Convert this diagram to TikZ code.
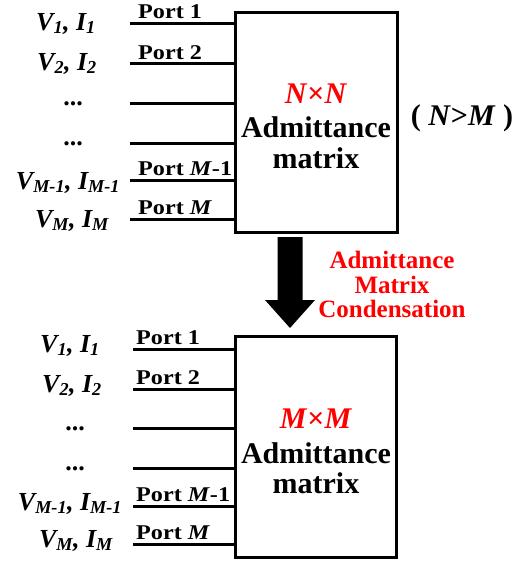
\documentclass[tikz,border=0pt]{standalone}
\usepackage{fontspec}
\setmainfont{Liberation Serif}
\begin{document}
\begin{tikzpicture}[x=1pt,y=-1pt,
  box/.style={draw,line width=3pt,inner sep=0pt},
  port/.style={line width=3pt},
  boxtxt/.style={inner sep=0pt,anchor=base,font=\fontsize{30}{34}\selectfont\bfseries},
  redtxt/.style={inner sep=0pt,anchor=base,text=red,font=\fontsize{25}{28}\selectfont\bfseries},
  porttxt/.style={inner sep=0pt,anchor=base west,font=\fontsize{21}{24}\selectfont\bfseries},
  vlab/.style={inner sep=0pt,anchor=base,font=\fontsize{26}{30}\selectfont\bfseries\itshape},
  dots/.style={inner sep=0pt,anchor=base,font=\fontsize{26}{30}\selectfont\bfseries}]
\useasboundingbox (0,0) rectangle (520,562);
\newcommand{\pt}[1]{\scalebox{1.15}[1]{#1}}
% ---- top box ----
\node[box,minimum width=162pt,minimum height=220pt] (boxA) at (316,122) {};
\node[boxtxt,text=red] (nA) at (316,103) {\textit{N}×\textit{N}};
\node[boxtxt] (adA) at (316,137) {Admittance};
\node[boxtxt] (mA) at (316,168) {matrix};
\node[boxtxt] (cond) at (462,125) {( \textit{N}>\textit{M} )};
\foreach \y/\n in {23/1,63/2,103/3,143/4,180/5,219/6}{
  \coordinate (a\n) at (130,\y);
  \draw[port] (a\n) -- (a\n -| boxA.west);
}
\node[porttxt] (pa1) at (138,19) {\pt{Port 1}};
\node[porttxt] (pa2) at (138,59) {\pt{Port 2}};
\node[porttxt] (pa5) at (138,175) {\pt{Port \textit{M}-1}};
\node[porttxt] (pa6) at (138,214) {\pt{Port \textit{M}}};
\node[vlab] (va1) at (66,30) {V\textsubscript{1}, I\textsubscript{1}};
\node[vlab] (va2) at (67,70) {V\textsubscript{2}, I\textsubscript{2}};
\node[dots] (da3) at (73,105) {...};
\node[dots] (da4) at (73,145) {...};
\node[vlab] (va5) at (68,189) {V\textsubscript{M-1}, I\textsubscript{M-1}};
\node[vlab] (va6) at (72,227) {V\textsubscript{M}, I\textsubscript{M}};
% ---- arrow ----
\fill (277.5,237) -- (302.5,237) -- (302.5,300) -- (315,300) -- (290,328) -- (265,300) -- (277.5,300) -- cycle;
\node[redtxt] (r1) at (392,268) {Admittance};
\node[redtxt] (r2) at (392,293) {Matrix};
\node[redtxt] (r3) at (392,317) {Condensation};
% ---- bottom box ----
\node[box,minimum width=161pt,minimum height=221pt] (boxB) at (315.5,446.5) {};
\node[boxtxt,text=red] (nB) at (316,428) {\textit{M}×\textit{M}};
\node[boxtxt] (adB) at (316,463) {Admittance};
\node[boxtxt] (mB) at (316,493) {matrix};
\foreach \y/\n in {349/1,389/2,428/3,468/4,506/5,544/6}{
  \coordinate (b\n) at (133,\y);
  \draw[port] (b\n) -- (b\n -| boxB.west);
}
\node[porttxt] (pb1) at (136,344) {\pt{Port 1}};
\node[porttxt] (pb2) at (136,384) {\pt{Port 2}};
\node[porttxt] (pb5) at (136,501) {\pt{Port \textit{M}-1}};
\node[porttxt] (pb6) at (136,539) {\pt{Port \textit{M}}};
\node[vlab] (vb1) at (70,352) {V\textsubscript{1}, I\textsubscript{1}};
\node[vlab] (vb2) at (72,392) {V\textsubscript{2}, I\textsubscript{2}};
\node[dots] (db3) at (75,430) {...};
\node[dots] (db4) at (75,470) {...};
\node[vlab] (vb5) at (70,510) {V\textsubscript{M-1}, I\textsubscript{M-1}};
\node[vlab] (vb6) at (76,547) {V\textsubscript{M}, I\textsubscript{M}};
\end{tikzpicture}
\end{document}
